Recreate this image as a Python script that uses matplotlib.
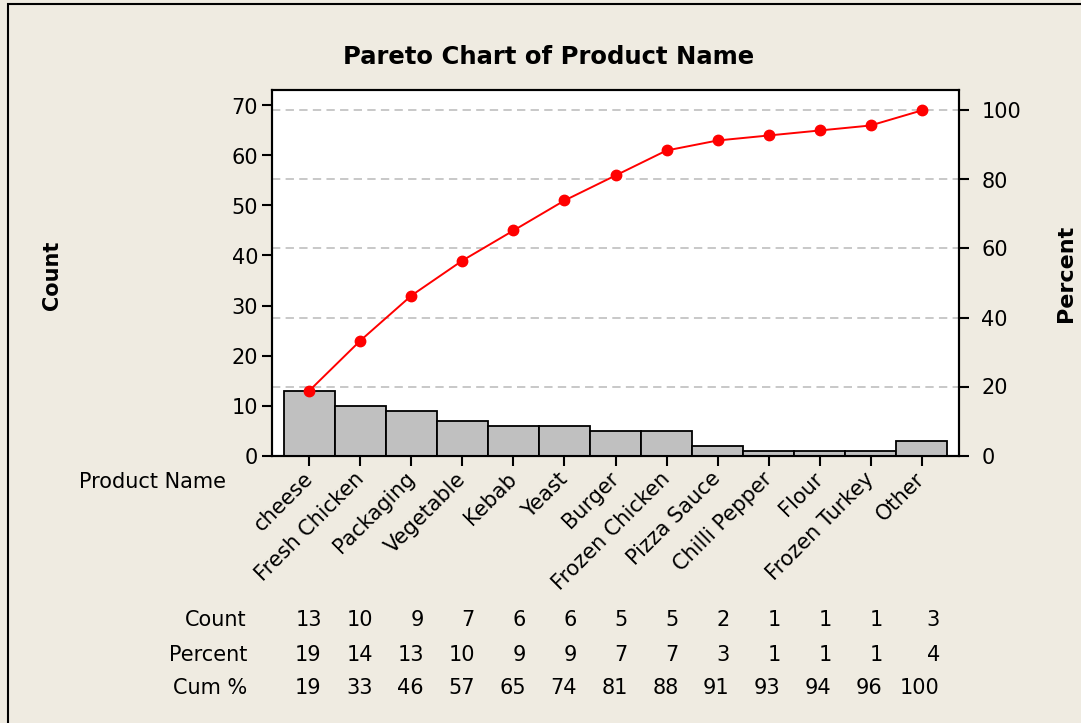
import numpy as np
from matplotlib import pyplot as plt
from matplotlib.patches import Rectangle
from matplotlib.transforms import blended_transform_factory

plt.rcParams['font.family'] = ['DejaVu Sans']
plt.rcParams['lines.scale_dashes'] = False

# data
products = ['cheese', 'Fresh Chicken', 'Packaging', 'Vegetable', 'Kebab', 'Yeast',
            'Burger', 'Frozen Chicken', 'Pizza Sauce', 'Chilli Pepper', 'Flour',
            'Frozen Turkey', 'Other']
counts = [13, 10, 9, 7, 6, 6, 5, 5, 2, 1, 1, 1, 3]
percents = [19, 14, 13, 10, 9, 9, 7, 7, 3, 1, 1, 1, 4]
cum_pct = [19, 33, 46, 57, 65, 74, 81, 88, 91, 93, 94, 96, 100]

W, H = 1081, 723
bg = '#EFEBE1'

def fx(px):
    return px / W

def fy(py):
    return 1 - py / H

fig = plt.figure(figsize=(W / 100, H / 100), dpi=100, facecolor=bg)

# axes box in pixels: left 272, right 959, top 90, bottom 455.5
ax2 = fig.add_axes([fx(272), fy(455.5), fx(959) - fx(272), fy(90) - fy(455.5)])
ax = fig.add_axes(ax2.get_position(), sharex=ax2)
ax.set_zorder(ax2.get_zorder() + 1)
ax.patch.set_visible(False)
ax2.set_facecolor('white')

x = np.arange(len(counts))
total = sum(counts)
ytop = 73.1

ax.bar(x, counts, width=1.0, color='#C0C0C0', edgecolor='black', linewidth=1.3)
ax.plot(x, np.cumsum(counts), color='red', lw=1.4, marker='o', markersize=7.5)

ax.set_xlim(-0.735, 12.735)
ax.set_ylim(0, ytop)
ax.set_yticks(range(0, 80, 10))

ax2.set_ylim(0, ytop * 100 / total)
ax2.set_yticks(range(0, 120, 20))
ax2.yaxis.tick_right()
ax2.grid(axis='y', color='#C4C4C4', lw=1.3, linestyle=(0, (6, 3.8)))
ax2.grid(axis='x', visible=False)

# category labels, rotated, a bit left of the ticks
ax.set_xticks(x)
ax.set_xticklabels([])
for i, name in enumerate(products):
    ax.annotate(name, xy=(i, 0), xycoords=('data', 'axes fraction'),
                xytext=(-5, -9.4), textcoords='offset points', rotation=45,
                ha='right', va='top', rotation_mode='anchor', fontsize=15,
                annotation_clip=False)
ax2.tick_params(axis='x', bottom=False, labelbottom=False)

for a in (ax, ax2):
    for s in a.spines.values():
        s.set_linewidth(1.5)
ax.tick_params(axis='y', direction='out', length=7, width=1.5, labelsize=15, pad=3)
ax.tick_params(axis='x', direction='out', length=7, width=1.5)
ax2.tick_params(axis='y', direction='out', length=7, width=1.5, labelsize=15, pad=9)

# titles and axis names
fig.text(fx(549), fy(57), 'Pareto Chart of Product Name', fontsize=17.5,
         fontweight='bold', ha='center', va='center')
fig.text(fx(52), fy(275), 'Count', fontsize=15, fontweight='bold',
         rotation=90, ha='center', va='center')
fig.text(fx(1066), fy(273), 'Percent', fontsize=16, fontweight='bold',
         rotation=90, ha='center', va='center')
fig.text(fx(226), fy(482), 'Product Name', fontsize=15, ha='right', va='center')

# table under the chart
trans = blended_transform_factory(ax.transData, fig.transFigure)
rows = [('Count', counts, 620), ('Percent', percents, 655), ('Cum %', cum_pct, 688)]
for name, vals, py in rows:
    fig.text(fx(247), fy(py), name, fontsize=15, ha='right', va='center')
    for i, v in enumerate(vals):
        off = 0.36 if i == len(vals) - 1 else 0.24
        fig.text(i + off, fy(py), str(v), fontsize=15, ha='right', va='center',
                 transform=trans)

# outer frame
fig.patches.append(Rectangle((fx(8), -0.05), 1.2, fy(4) + 0.05, transform=fig.transFigure,
                             fill=False, edgecolor='black', lw=1.5))

fig.savefig('out.png', dpi=100, facecolor=bg)
